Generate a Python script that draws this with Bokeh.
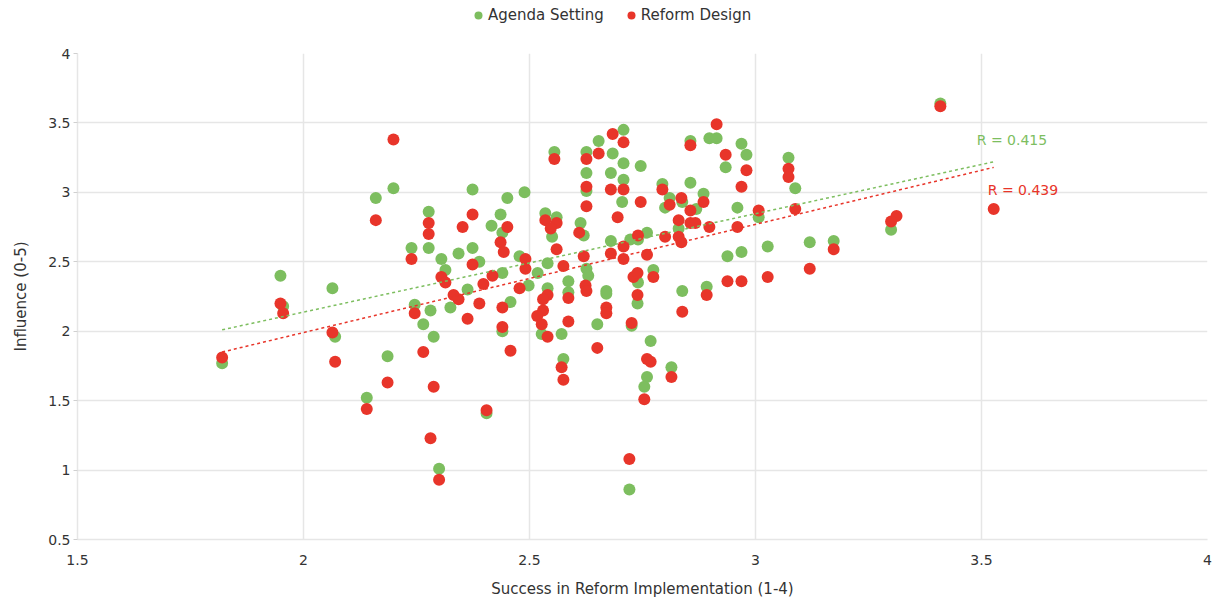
from bokeh.plotting import figure
from bokeh.layouts import column
from bokeh.models import Range1d, Legend, LegendItem, FixedTicker
from bokeh.core.properties import value
from bokeh.embed import file_html
from bokeh.resources import INLINE

agenda_x = [1.82, 1.949, 1.955, 2.064, 2.07, 2.199, 2.16, 2.186, 2.14, 2.239, 2.277, 2.277, 2.305, 2.314,
            2.246, 2.281, 2.325, 2.265, 2.288, 2.30, 2.374, 2.451, 2.489, 2.436, 2.416, 2.44, 2.374, 2.343,
            2.389, 2.363, 2.440, 2.458, 2.478, 2.498, 2.518, 2.54, 2.535, 2.56, 2.55, 2.555, 2.613, 2.62,
            2.586, 2.586, 2.54, 2.626, 2.626, 2.626, 2.653, 2.684, 2.708, 2.68, 2.708, 2.708, 2.705, 2.746,
            2.68, 2.723, 2.626, 2.63, 2.67, 2.67, 2.74, 2.44, 2.405, 2.527, 2.571, 2.575, 2.65, 2.726, 2.721,
            2.794, 2.81, 2.80, 2.838, 2.856, 2.856, 2.885, 2.869, 2.83, 2.898, 2.914, 2.934, 2.969, 2.98,
            2.96, 3.007, 3.073, 3.088, 3.027, 3.12, 2.938, 2.969, 2.76, 2.74, 2.774, 2.739, 2.838, 2.892,
            2.768, 2.814, 2.76, 2.754, 3.409, 3.30, 3.173]
agenda_y = [1.77, 2.40, 2.18, 2.31, 1.96, 3.03, 2.96, 1.82, 1.52, 2.60, 2.86, 2.60, 2.52, 2.44,
            2.19, 2.15, 2.17, 2.05, 1.96, 1.01, 3.02, 2.96, 3.00, 2.84, 2.76, 2.71, 2.60, 2.56,
            2.50, 2.30, 2.42, 2.21, 2.54, 2.33, 2.42, 2.49, 2.85, 2.82, 2.68, 3.29, 2.78, 2.69,
            2.36, 2.28, 2.31, 3.29, 3.14, 3.01, 3.37, 3.28, 3.45, 3.14, 3.21, 3.09, 2.93, 3.19,
            2.65, 2.66, 2.45, 2.40, 2.29, 2.27, 2.35, 2.00, 1.41, 1.98, 1.98, 1.80, 2.05, 2.04, 0.86,
            3.06, 2.96, 2.89, 2.93, 3.07, 3.37, 2.99, 2.88, 2.74, 3.39, 3.39, 3.18, 3.35, 3.27,
            2.89, 2.82, 3.25, 3.03, 2.61, 2.64, 2.54, 2.57, 2.71, 2.66, 2.44, 2.20, 2.29, 2.32,
            1.93, 1.74, 1.67, 1.60, 3.64, 2.73, 2.65]

reform_x = [1.82, 1.949, 1.955, 2.064, 2.07, 2.199, 2.16, 2.186, 2.14, 2.239, 2.277, 2.277, 2.305, 2.314,
            2.246, 2.265, 2.288, 2.281, 2.30, 2.374, 2.352, 2.451, 2.436, 2.443, 2.374, 2.332, 2.343, 2.389,
            2.398, 2.418, 2.440, 2.363, 2.491, 2.491, 2.478, 2.575, 2.56, 2.535, 2.56, 2.547, 2.555, 2.61,
            2.586, 2.54, 2.53, 2.53, 2.626, 2.626, 2.626, 2.653, 2.684, 2.708, 2.68, 2.708, 2.695, 2.62,
            2.68, 2.708, 2.708, 2.74, 2.624, 2.626, 2.67, 2.67, 2.73, 2.44, 2.458, 2.405, 2.517, 2.527,
            2.54, 2.586, 2.571, 2.575, 2.65, 2.726, 2.721, 2.746, 2.794, 2.81, 2.836, 2.856, 2.885, 2.856,
            2.83, 2.83, 2.836, 2.856, 2.867, 2.914, 2.934, 2.98, 2.969, 2.898, 2.96, 3.007, 3.073, 3.073,
            3.088, 3.12, 3.027, 2.938, 2.969, 2.80, 2.76, 2.739, 2.774, 2.739, 2.838, 2.892, 2.76, 2.768,
            2.814, 2.754, 3.409, 3.527, 3.312, 3.30, 3.173]
reform_y = [1.81, 2.20, 2.13, 1.99, 1.78, 3.38, 2.80, 1.63, 1.44, 2.52, 2.78, 2.70, 2.39, 2.35,
            2.13, 1.85, 1.60, 1.23, 0.93, 2.84, 2.75, 2.75, 2.64, 2.57, 2.48, 2.26, 2.23, 2.20,
            2.34, 2.40, 2.17, 2.09, 2.52, 2.45, 2.31, 2.47, 2.59, 2.80, 2.78, 2.74, 3.24, 2.71,
            2.24, 2.26, 2.23, 2.15, 3.24, 3.04, 2.90, 3.28, 3.42, 3.36, 3.02, 3.02, 2.82, 2.54,
            2.56, 2.61, 2.52, 2.69, 2.33, 2.29, 2.17, 2.13, 2.39, 2.03, 1.86, 1.43, 2.11, 2.05,
            1.96, 2.07, 1.74, 1.65, 1.88, 2.06, 1.08, 2.93, 3.02, 2.91, 2.96, 3.34, 2.93, 2.87,
            2.80, 2.68, 2.64, 2.78, 2.78, 3.49, 3.27, 3.16, 3.04, 2.75, 2.75, 2.87, 3.17, 3.11,
            2.88, 2.45, 2.39, 2.36, 2.36, 2.68, 2.55, 2.42, 2.39, 2.26, 2.14, 2.26, 1.80, 1.78,
            1.67, 1.51, 3.62, 2.88, 2.83, 2.79, 2.59]

trend_x = [1.82, 3.527]
agenda_trend = [2.01, 3.22]
reform_trend = [1.85, 3.18]
agenda_r = "R = 0.415"
reform_r = "R = 0.439"
series_names = ["Agenda Setting", "Reform Design"]

x_ticks = [1.5, 2, 2.5, 3, 3.5, 4]
y_ticks = [0.5, 1, 1.5, 2, 2.5, 3, 3.5, 4]

GREEN = "#7DBE5F"
RED = "#E8352A"
FONT = "DejaVu Sans"
TXT = "#333333"

# ---- legend strip on top (its own figure, so the legend is not clipped) ----
leg = figure(width=1213, height=30, output_backend="svg", toolbar_location=None,
             x_range=Range1d(0, 1), y_range=Range1d(0, 1),
             x_axis_location=None, y_axis_location=None,
             min_border=0, min_border_left=0, min_border_right=0, min_border_top=0, min_border_bottom=0)
leg.outline_line_color = None
leg.xgrid.visible = False
leg.ygrid.visible = False
# renderers only used for the legend swatches (their point lies outside this strip's range)
lg = leg.scatter(x=agenda_x[:1], y=agenda_y[:1], size=12, fill_color=GREEN, line_color=None)
lr = leg.scatter(x=reform_x[:1], y=reform_y[:1], size=12, fill_color=RED, line_color=None)
legend = Legend(items=[LegendItem(label=series_names[0], renderers=[lg]),
                       LegendItem(label=series_names[1], renderers=[lr])],
                orientation="horizontal", location=(391, 5),
                label_text_font=FONT, label_text_font_size="15px", label_text_color=TXT,
                glyph_width=20, glyph_height=20, label_standoff=0, spacing=17,
                padding=0, margin=0, border_line_color=None, background_fill_alpha=0)
leg.add_layout(legend)

# ---- main scatter ----
p = figure(width=1213, height=571, output_backend="svg", toolbar_location=None,
           x_range=Range1d(1.5, 4), y_range=Range1d(0.5, 4),
           min_border_left=77, min_border_right=6, min_border_top=23, min_border_bottom=62)
p.outline_line_color = None

for ax in (p.xaxis[0], p.yaxis[0]):
    ax.axis_line_color = "#e6e6e6"
    ax.axis_line_width = 1.5
    ax.major_tick_line_color = "#d0d0d0"
    ax.minor_tick_line_color = None
    ax.major_tick_out = 4
    ax.major_tick_in = 0
    ax.major_label_text_font = FONT
    ax.major_label_text_font_size = "14px"
    ax.major_label_text_color = TXT
    ax.axis_label_text_font = FONT
    ax.axis_label_text_font_size = "15px"
    ax.axis_label_text_color = TXT
    ax.axis_label_text_font_style = "normal"

p.xaxis.ticker = FixedTicker(ticks=x_ticks)
p.yaxis.ticker = FixedTicker(ticks=y_ticks)
p.xaxis.major_label_overrides = {t: ("%g" % t) for t in x_ticks}
p.yaxis.major_label_overrides = {t: ("%g" % t) for t in y_ticks}
p.xaxis.axis_label = "Success in Reform Implementation (1-4)"
p.yaxis.axis_label = "Influence (0-5)"
p.xaxis.major_tick_line_color = None
p.xaxis.major_label_standoff = 11
p.yaxis.major_label_standoff = 3
p.xaxis.axis_label_standoff = 12
p.yaxis.axis_label_standoff = 15

p.xgrid.grid_line_color = "#e6e6e6"
p.ygrid.grid_line_color = "#e6e6e6"
p.xgrid.grid_line_width = 1.5
p.ygrid.grid_line_width = 1.5

p.scatter(agenda_x, agenda_y, size=12, fill_color=GREEN, line_color=None)
p.scatter(reform_x, reform_y, size=12, fill_color=RED, line_color=None)

p.line(trend_x, agenda_trend, line_color=GREEN, line_width=1.5, line_dash="3 3")
p.line(trend_x, reform_trend, line_color=RED, line_width=1.5, line_dash="3 3")

p.text(x=[trend_x[-1]], y=[agenda_trend[-1]], text=[agenda_r], text_color=GREEN,
       text_font=value(FONT), text_font_size="14px", text_align="left", text_baseline="alphabetic",
       x_offset=-17, y_offset=-22)
p.text(x=[trend_x[-1]], y=[reform_trend[-1]], text=[reform_r], text_color=RED,
       text_font=value(FONT), text_font_size="14px", text_align="left", text_baseline="alphabetic",
       x_offset=-6, y_offset=23)

layout = column(leg, p, spacing=0)
open("out.html", "w").write(file_html(layout, INLINE))
